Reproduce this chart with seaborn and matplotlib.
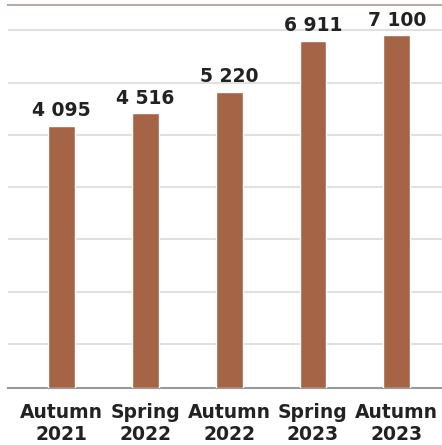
import numpy as np
import pandas as pd
import seaborn as sns
import matplotlib.pyplot as plt

seasons = ["Autumn\n2021", "Spring\n2022", "Autumn\n2022", "Spring\n2023", "Autumn\n2023"]
values = [4095, 4516, 5220, 6911, 7100]

bar_color = "#a66447"
text_color = "#222222"

# axis does not start at zero in the original, bars grow from the axis floor
base = -4600
top = 8100

sns.set_theme(style="white")
plt.rcParams["font.family"] = ["DejaVu Sans"]

df = pd.DataFrame({"season": seasons, "height": np.array(values) - base})

fig = plt.figure(figsize=(4.42, 4.45), dpi=100)
ax = fig.add_axes([8 / 442, 57 / 445, 434 / 442, 383 / 445])

sns.barplot(data=df, x="season", y="height", bottom=base, color=bar_color,
            width=0.32, saturation=1, ax=ax, zorder=3)

ax.set_ylim(base, top)
ax.set_xlim(-0.64, 4.54)

step = (top - base) * 52.3 / 383
first = base + 0.84 * step
ax.set_yticks(first + step * np.arange(7))
ax.yaxis.grid(True, color="#e0e0e0", linewidth=1.5)
ax.set_axisbelow(True)
ax.tick_params(axis="y", left=False, labelleft=False)
ax.tick_params(axis="x", bottom=False, pad=5, labelsize=13.5, labelcolor=text_color)
for t in ax.get_xticklabels():
    t.set_fontweight("bold")
    t.set_linespacing(1.15)

labels = [f"{v:,}".replace(",", " ") for v in values]
ax.bar_label(ax.containers[0], labels=labels, padding=4, fontsize=13.5,
             fontweight="bold", color=text_color)

ax.set_xlabel("")
ax.set_ylabel("")
for s in ["left", "right"]:
    ax.spines[s].set_visible(False)
ax.spines["bottom"].set_color("#999999")
ax.spines["bottom"].set_linewidth(1.5)
ax.spines["top"].set_color("#b8aaa5")
ax.spines["top"].set_linewidth(1.5)

fig.savefig("out.png", dpi=100)
